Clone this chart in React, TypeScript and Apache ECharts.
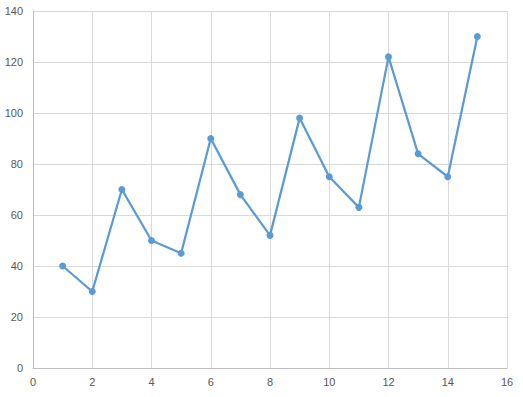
import React, { useEffect, useRef } from "react";
import * as echarts from "echarts";

const xValues = [1, 2, 3, 4, 5, 6, 7, 8, 9, 10, 11, 12, 13, 14, 15];
const yValues = [40, 30, 70, 50, 45, 90, 68, 52, 98, 75, 63, 122, 84, 75, 130];

export default function App() {
  const ref = useRef<HTMLDivElement>(null);
  useEffect(() => {
    if (!ref.current) return;
    const chart = echarts.init(ref.current, undefined, { renderer: "svg" });
    const labelStyle = { color: "#595959", fontSize: 11, fontFamily: "Liberation Sans, Arial, sans-serif" };
    chart.setOption({
      animation: false,
      backgroundColor: "#ffffff",
      grid: { left: 33, right: 16, top: 11, bottom: 29, containLabel: false },
      xAxis: {
        type: "value",
        min: 0,
        max: 16,
        interval: 2,
        axisLine: { show: true, lineStyle: { color: "#BFBFBF", width: 1 } },
        axisTick: { show: false },
        splitLine: { show: true, lineStyle: { color: "#D9D9D9", width: 1 } },
        axisLabel: { ...labelStyle, margin: 8 },
      },
      yAxis: {
        type: "value",
        min: 0,
        max: 140,
        interval: 20,
        axisLine: { show: true, lineStyle: { color: "#BFBFBF", width: 1 } },
        axisTick: { show: false },
        splitLine: { show: true, lineStyle: { color: "#D9D9D9", width: 1 } },
        axisLabel: { ...labelStyle, margin: 10 },
      },
      series: [
        {
          type: "line",
          data: xValues.map((x, i) => [x, yValues[i]]),
          symbol: "circle",
          symbolSize: 7,
          lineStyle: { color: "#5B9BD5", width: 2.25 },
          itemStyle: { color: "#5B9BD5" },
        },
      ],
    });
    return () => chart.dispose();
  }, []);
  return (
    <div
      ref={ref}
      style={{ position: "fixed", left: 0, top: 0, width: 523, height: 397, background: "#fff" }}
    />
  );
}
